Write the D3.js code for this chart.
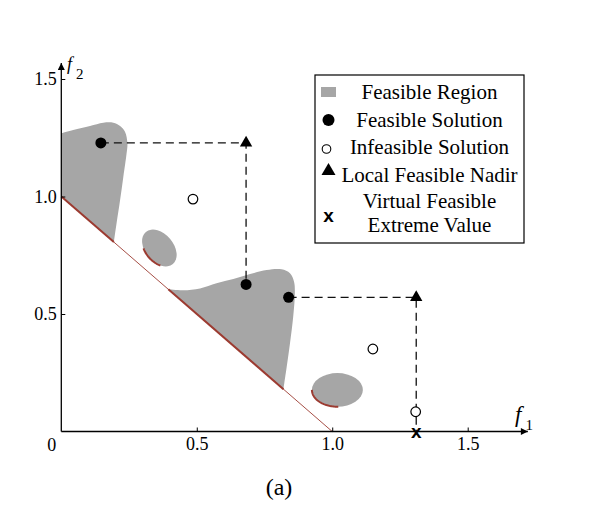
<!DOCTYPE html>
<html>
<head>
<meta charset="utf-8">
<script src="https://cdn.jsdelivr.net/npm/d3@7"></script>
<style>
  body { margin: 0; background: #fff; }
  text { font-family: 'Liberation Serif', 'Times New Roman', serif; }
</style>
</head>
<body>
<div id="chart"></div>
<script>
// points (f1, f2)
const feasible = [[0.146, 1.228], [0.682, 0.626], [0.839, 0.571]];
const infeasible = [[0.486, 0.989], [1.150, 0.351], [1.308, 0.084]];
const nadir = [[0.682, 1.228], [1.310, 0.571]];
const extreme = [[1.310, 0]];

// feasible region outlines
const region1Curve = [
  [0, 1.269], [0.044, 1.283], [0.106, 1.300], [0.155, 1.314], [0.192, 1.314],
  [0.217, 1.300], [0.235, 1.276], [0.244, 1.226], [0.241, 1.184], [0.229, 1.084],
  [0.217, 0.985], [0.204, 0.886], [0.194, 0.806]
];
const region1Front = [[0.194, 0.806], [0, 1.0]];

const region3Curve = [
  [0.395, 0.605], [0.450, 0.601], [0.512, 0.609], [0.573, 0.631], [0.635, 0.649],
  [0.697, 0.670], [0.758, 0.687], [0.813, 0.690], [0.844, 0.673], [0.859, 0.637],
  [0.862, 0.588], [0.856, 0.489], [0.844, 0.375], [0.832, 0.276], [0.820, 0.180]
];
const region3Front = [[0.820, 0.180], [0.395, 0.605]];

// ellipse islands: centre, semi axes (f1 units), rotation, front arc (deg)
const islands = [
  { cx: 0.362, cy: 0.781, a: 0.0775, b: 0.052, rot: 50, arc: [48, 118] },
  { cx: 1.019, cy: 0.177, a: 0.094, b: 0.062, rot: 0, arc: [88, 180] }
];

const idealLine = [[0, 1], [1, 0]];

const xTicks = [0.5, 1.0, 1.5];
const yTicks = [0.5, 1.0, 1.5];

const legendItems = [
  { sym: 'region', lines: ['Feasible Region'] },
  { sym: 'feasible', lines: ['Feasible Solution'] },
  { sym: 'infeasible', lines: ['Infeasible Solution'] },
  { sym: 'nadir', lines: ['Local Feasible Nadir'] },
  { sym: 'extreme', lines: ['Virtual Feasible', 'Extreme Value'] }
];

// layout
const w = 604;
const h = 505;
const gray = '#a6a6a6';
const red = '#9c3b31';

const x = d3.scaleLinear().domain([0, 1.5]).range([61.3, 467.7]);
const y = d3.scaleLinear().domain([0, 1.5]).range([431.5, 79]);

const svg = d3.select('#chart').append('svg')
  .attr('width', w)
  .attr('height', h);

svg.append('defs').append('marker')
  .attr('id', 'arrow')
  .attr('viewBox', '0 0 10 10')
  .attr('refX', 10)
  .attr('refY', 5)
  .attr('markerWidth', 9)
  .attr('markerHeight', 7)
  .attr('markerUnits', 'userSpaceOnUse')
  .attr('orient', 'auto')
  .append('path')
  .attr('d', 'M0,0L10,5L0,10Z')
  .attr('fill', '#000');

const line = d3.line().x(d => x(d[0])).y(d => y(d[1]));
const smooth = d3.line().x(d => x(d[0])).y(d => y(d[1])).curve(d3.curveCatmullRom);

// regions
svg.append('path')
  .attr('d', smooth(region1Curve) + 'L' + x(0) + ',' + y(1) + 'Z')
  .attr('fill', gray);
svg.append('path')
  .attr('d', smooth(region3Curve) + 'Z')
  .attr('fill', gray);

function ellipsePts(e, t0, t1, n) {
  const cx = x(e.cx), cy = y(e.cy);
  const a = x(e.a) - x(0), b = x(e.b) - x(0);
  const r = e.rot * Math.PI / 180;
  return d3.range(n + 1).map(i => {
    const t = (t0 + (t1 - t0) * i / n) * Math.PI / 180;
    const u = a * Math.cos(t), v = b * Math.sin(t);
    return [cx + u * Math.cos(r) - v * Math.sin(r), cy + u * Math.sin(r) + v * Math.cos(r)];
  });
}

islands.forEach(e => {
  svg.append('ellipse')
    .attr('cx', x(e.cx))
    .attr('cy', y(e.cy))
    .attr('rx', x(e.a) - x(0))
    .attr('ry', x(e.b) - x(0))
    .attr('transform', `rotate(${e.rot},${x(e.cx)},${y(e.cy)})`)
    .attr('fill', gray);
  svg.append('path')
    .attr('d', d3.line()(ellipsePts(e, e.arc[0], e.arc[1], 40)))
    .attr('fill', 'none')
    .attr('stroke', red)
    .attr('stroke-width', 2);
});

// ideal front line, thick where it bounds a region
svg.append('path')
  .attr('d', line(idealLine))
  .attr('stroke', red)
  .attr('stroke-width', 0.9)
  .attr('fill', 'none');
[region1Front, region3Front].forEach(seg => {
  svg.append('path')
    .attr('d', line(seg))
    .attr('stroke', red)
    .attr('stroke-width', 2)
    .attr('fill', 'none');
});

// axes
const xAxis = d3.axisBottom(x).tickValues(xTicks).tickFormat(d3.format('.1f'))
  .tickSizeInner(-4).tickSizeOuter(0).tickPadding(6);
const yAxis = d3.axisLeft(y).tickValues(yTicks).tickFormat(d3.format('.1f'))
  .tickSizeInner(-4).tickSizeOuter(0).tickPadding(4.5);

const gx = svg.append('g').attr('transform', `translate(0,${y(0)})`).call(xAxis);
const gy = svg.append('g').attr('transform', `translate(${x(0)},0)`).call(yAxis);
[gx, gy].forEach(g => {
  g.select('.domain').remove();
  g.selectAll('line').attr('stroke', '#000').attr('stroke-width', 1);
  g.selectAll('text')
    .attr('fill', '#000')
    .style('font-family', "'Liberation Serif', serif")
    .style('font-size', '18px');
});

svg.append('line')
  .attr('x1', x(0)).attr('y1', y(0))
  .attr('x2', x(1.722)).attr('y2', y(0))
  .attr('stroke', '#000').attr('stroke-width', 1.3)
  .attr('marker-end', 'url(#arrow)');
svg.append('line')
  .attr('x1', x(0)).attr('y1', y(0))
  .attr('x2', x(0)).attr('y2', y(1.568))
  .attr('stroke', '#000').attr('stroke-width', 1.3)
  .attr('marker-end', 'url(#arrow)');

svg.append('text')
  .attr('x', x(0) - 9.6)
  .attr('y', 450.5)
  .attr('text-anchor', 'middle')
  .style('font-size', '18px')
  .text('0');

const f1 = svg.append('text').attr('x', 515).attr('y', 422);
f1.append('tspan').style('font-style', 'italic').style('font-size', '23px').text('f');
f1.append('tspan').attr('dx', 4).attr('dy', 8).style('font-size', '15px').text('1');

const f2 = svg.append('text').attr('x', 67).attr('y', 70);
f2.append('tspan').style('font-style', 'italic').style('font-size', '18px').text('f');
f2.append('tspan').attr('dx', 4).attr('dy', 9).style('font-size', '15px').text('2');

svg.append('text')
  .attr('x', 279)
  .attr('y', 495)
  .attr('text-anchor', 'middle')
  .style('font-size', '24px')
  .text('(a)');

// dashed construction lines
const dashed = [
  [feasible[0], nadir[0], feasible[1]],
  [feasible[2], nadir[1], extreme[0]]
];
dashed.forEach(p => {
  svg.append('path')
    .attr('d', line(p))
    .attr('fill', 'none')
    .attr('stroke', '#111')
    .attr('stroke-width', 1.3)
    .attr('stroke-dasharray', '8,5');
});

// markers
svg.selectAll('.feas')
  .data(feasible)
  .enter()
  .append('circle')
  .attr('cx', d => x(d[0]))
  .attr('cy', d => y(d[1]))
  .attr('r', 5.5)
  .attr('fill', '#000');

svg.selectAll('.infeas')
  .data(infeasible)
  .enter()
  .append('circle')
  .attr('cx', d => x(d[0]))
  .attr('cy', d => y(d[1]))
  .attr('r', 4.8)
  .attr('fill', '#fff')
  .attr('stroke', '#000')
  .attr('stroke-width', 1.2);

svg.selectAll('.nadir')
  .data(nadir)
  .enter()
  .append('path')
  .attr('d', d3.symbol(d3.symbolTriangle, 66))
  .attr('transform', d => `translate(${x(d[0])},${y(d[1])})`)
  .attr('fill', '#000');

svg.selectAll('.extreme')
  .data(extreme)
  .enter()
  .append('text')
  .attr('x', d => x(d[0]))
  .attr('y', d => y(d[1]) + 6.5)
  .attr('text-anchor', 'middle')
  .style('font-family', "'Liberation Sans', Arial, sans-serif")
  .style('font-weight', 'bold')
  .style('font-size', '19px')
  .text('x');

// legend
const legend = svg.append('g');
legend.append('rect')
  .attr('x', 315)
  .attr('y', 75)
  .attr('width', 209)
  .attr('height', 168)
  .attr('fill', '#fff')
  .attr('stroke', '#000')
  .attr('stroke-width', 1.2);

const baselines = [99.3, 126.7, 154.3, 181.7, 208.3];
const symY = [92, 120, 149, 171, 216.7];
const symX = 328.5;

legendItems.forEach((item, i) => {
  const t = legend.append('text')
    .attr('x', 429.5)
    .attr('y', baselines[i])
    .attr('text-anchor', 'middle')
    .style('font-size', '21px');
  item.lines.forEach((s, j) => {
    t.append('tspan').attr('x', 429.5).attr('dy', j === 0 ? 0 : 23.4).text(s);
  });

  const sy = symY[i];
  if (item.sym === 'region') {
    legend.append('rect')
      .attr('x', symX - 7.5).attr('y', sy - 5)
      .attr('width', 15).attr('height', 10)
      .attr('fill', gray);
  } else if (item.sym === 'feasible') {
    legend.append('circle').attr('cx', symX).attr('cy', sy).attr('r', 6).attr('fill', '#000');
  } else if (item.sym === 'infeasible') {
    legend.append('circle').attr('cx', symX - 2).attr('cy', sy).attr('r', 4.3)
      .attr('fill', '#fff').attr('stroke', '#000').attr('stroke-width', 1.1);
  } else if (item.sym === 'nadir') {
    legend.append('path')
      .attr('d', d3.symbol(d3.symbolTriangle, 85))
      .attr('transform', `translate(${symX},${sy})`)
      .attr('fill', '#000');
  } else {
    legend.append('text')
      .attr('x', symX).attr('y', sy + 5.5)
      .attr('text-anchor', 'middle')
      .style('font-family', "'Liberation Sans', Arial, sans-serif")
      .style('font-weight', 'bold')
      .style('font-size', '19px')
      .text('x');
  }
});
</script>
</body>
</html>
